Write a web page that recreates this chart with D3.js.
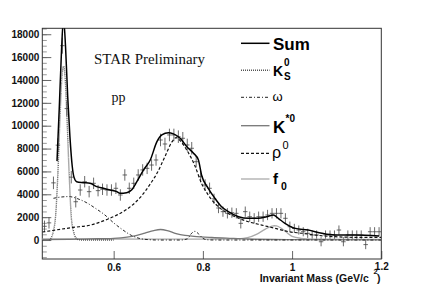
<!DOCTYPE html>
<html>
<head>
<meta charset="utf-8">
<script src="https://cdn.jsdelivr.net/npm/d3@7.8.5/dist/d3.min.js"></script>
<style>
  body { margin: 0; background: #fff; }
  svg { display: block; }
</style>
</head>
<body>
<div id="chart"></div>
<script>
// data histogram (bin centers, counts, errors)
const massBins = [
  0.445, 0.455, 0.465, 0.475, 0.485, 0.495, 0.505, 0.515, 0.525, 0.535,
  0.545, 0.555, 0.565, 0.575, 0.585, 0.595, 0.605, 0.615, 0.625, 0.635,
  0.645, 0.655, 0.665, 0.675, 0.685, 0.695, 0.705, 0.715, 0.725, 0.735,
  0.745, 0.755, 0.765, 0.775, 0.785, 0.795, 0.805, 0.815, 0.825, 0.835,
  0.845, 0.855, 0.865, 0.875, 0.885, 0.895, 0.905, 0.915, 0.925, 0.935,
  0.945, 0.955, 0.965, 0.975, 0.985, 0.995, 1.005, 1.015, 1.025, 1.035,
  1.045, 1.055, 1.065, 1.075, 1.085, 1.095, 1.105, 1.115, 1.125, 1.135,
  1.145, 1.155, 1.165, 1.175, 1.185, 1.195,
];
const counts = [
  1200, 1500, 5000, 8300, 17000, 11500, 5500, 3350, 4375, 5100,
  4230, 4960, 4320, 4440, 4375, 4375, 4525, 3940, 5690, 4525,
  4960, 5690, 6130, 6270, 6560, 7000, 8750, 8400, 9190, 9190,
  9040, 8900, 8315, 8025, 6850, 5540, 4815, 4525, 3600, 2800,
  2480, 2335, 2390, 2335, 1460, 2480, 2040, 1900, 2040, 2040,
  2190, 2335, 2335, 2335, 1900, 1165, 1020, 875, 725, 585,
  440, 440, -150, 440, 440, 440, 875, -150, 440, 440,
  440, 440, -400, 725, 725, 725,
];
const errors = [
  500, 500, 550, 600, 700, 650, 550, 500, 500, 500,
  500, 500, 500, 500, 500, 500, 500, 500, 500, 500,
  500, 500, 500, 500, 500, 500, 550, 550, 550, 550,
  550, 550, 550, 550, 500, 500, 500, 500, 450, 450,
  450, 450, 450, 450, 450, 450, 450, 450, 450, 450,
  450, 450, 450, 450, 450, 450, 400, 400, 400, 400,
  400, 400, 400, 400, 400, 400, 400, 400, 400, 400,
  400, 400, 400, 400, 400, 400,
];

// fit components
const sumMass = [
  0.473, 0.478, 0.483, 0.4875, 0.492, 0.497, 0.502, 0.507, 0.511, 0.517,
  0.532, 0.547, 0.562, 0.577, 0.592, 0.607, 0.614, 0.629, 0.64, 0.652,
  0.667, 0.682, 0.697, 0.708, 0.723, 0.734, 0.749, 0.764, 0.779, 0.79,
  0.797, 0.812, 0.827, 0.842, 0.857, 0.88, 0.902, 0.924, 0.943, 0.958,
  0.969, 0.984, 1.007, 1.036, 1.067, 1.096, 1.141, 1.195,
];
const sumVal = [
  6900, 11500, 16500, 19400, 17000, 12500, 9000, 6500, 5500, 5100,
  5020, 4960, 4670, 4525, 4375, 4230, 4085, 4140, 4375, 5100,
  6130, 7000, 8600, 9190, 9390, 9280, 8900, 8165, 7590, 7000,
  5690, 4525, 3650, 2915, 2480, 2040, 1900, 1900, 2040, 2190,
  1900, 1460, 1020, 875, 585, 440, 440, 350,
];
const k0sMass = [
  0.455, 0.46, 0.465, 0.47, 0.475, 0.48, 0.484, 0.4875, 0.491, 0.495,
  0.5, 0.505, 0.51, 0.515, 0.52, 0.53, 0.6,
];
const k0sVal = [
  0, 200, 800, 2200, 5900, 11000, 14300, 15200, 14300, 11000,
  6000, 2000, 750, 200, 50, 0, 0,
];
const omegaMass = [
  0.465, 0.48, 0.5, 0.52, 0.54, 0.56, 0.58, 0.6, 0.62, 0.64,
  0.66, 0.68, 0.7, 0.75, 0.765, 0.775, 0.782, 0.79, 0.8, 0.81,
  0.83, 0.9, 1.0, 1.2,
];
const omegaVal = [
  3650, 3750, 3800, 3600, 3250, 2750, 2200, 1500, 900, 400,
  120, 30, 0, 0, 100, 600, 760, 550, 150, 20,
  0, 0, 0, 0,
];
const kstarMass = [
  0.44, 0.5, 0.55, 0.6, 0.63, 0.65, 0.67, 0.69, 0.705, 0.72,
  0.74, 0.76, 0.78, 0.82, 0.86, 0.9, 1.0, 1.2,
];
const kstarVal = [
  30, 60, 100, 150, 250, 380, 600, 830, 920, 830,
  560, 400, 320, 220, 150, 90, 40, 10,
];
const rhoMass = [
  0.44, 0.509, 0.547, 0.585, 0.608, 0.63, 0.659, 0.682, 0.698, 0.715,
  0.731, 0.74, 0.749, 0.765, 0.782, 0.797, 0.812, 0.827, 0.85, 0.872,
  0.902, 0.932, 0.962, 0.992, 1.022, 1.051, 1.096, 1.156, 1.2,
];
const rhoVal = [
  700, 1100, 1300, 1800, 2200, 2700, 3700, 4900, 5900, 7300,
  8600, 8950, 8700, 7800, 6500, 4960, 3940, 3200, 2480, 2040,
  1600, 1310, 1020, 730, 590, 440, 290, 230, 230,
];
const f0Mass = [
  0.44, 0.6, 0.8, 0.88, 0.9, 0.92, 0.94, 0.955, 0.96, 0.965,
  0.975, 0.99, 1.0, 1.02, 1.05, 1.2,
];
const f0Val = [
  100, 90, 80, 100, 200, 500, 950, 1220, 1250, 1230,
  1050, 600, 320, 150, 80, 50,
];

const yTicks = [0, 2000, 4000, 6000, 8000, 10000, 12000, 14000, 16000, 18000];
const yMinorTicks = d3.range(-1500, 18501, 500);
const xTicks = [0.6, 0.8, 1, 1.2];
const xTickLabels = ["0.6", "0.8", "1", "1.2"];

const width = 424;
const height = 288;
const plot = { left: 42.3, right: 381.3, top: 28.3, bottom: 259 };

const svg = d3
  .select("#chart")
  .append("svg")
  .attr("width", width)
  .attr("height", height)
  .attr("viewBox", `0 0 ${width} ${height}`);

const x = d3.scaleLinear().domain([0.44, 1.2]).range([plot.left, plot.right]);
const y = d3
  .scaleLinear()
  .domain([-1660, 18520])
  .range([plot.bottom, plot.top]);

svg
  .append("clipPath")
  .attr("id", "plot-clip")
  .append("rect")
  .attr("x", plot.left)
  .attr("y", plot.top)
  .attr("width", plot.right - plot.left)
  .attr("height", plot.bottom - plot.top);

// axes (ROOT style, ticks inside the frame)
const yMinor = svg
  .append("g")
  .attr("transform", `translate(${plot.left},0)`)
  .call(d3.axisLeft(y).tickValues(yMinorTicks).tickSize(-4.5).tickFormat(""));
yMinor.selectAll(".tick line").attr("stroke", "#999");

const yAxis = svg
  .append("g")
  .attr("transform", `translate(${plot.left},0)`)
  .call(
    d3
      .axisLeft(y)
      .tickValues(yTicks)
      .tickSize(-9)
      .tickPadding(3)
      .tickFormat(d3.format("d")),
  );
yAxis.selectAll(".tick line").attr("stroke", "#666");

const xAxis = svg
  .append("g")
  .attr("transform", `translate(0,${plot.bottom})`)
  .call(
    d3
      .axisBottom(x)
      .tickValues(xTicks)
      .tickSize(-8)
      .tickPadding(5)
      .tickFormat((d, i) => xTickLabels[i]),
  );
xAxis.selectAll(".tick line").attr("stroke", "#666");
// ROOT nudges the last label up a little
xAxis
  .selectAll(".tick text")
  .filter((d) => d === 1.2)
  .attr("y", 3.5);

svg.selectAll(".domain").remove();
svg
  .selectAll(".tick text")
  .style("font-family", "Liberation Sans, Arial, sans-serif")
  .style("font-weight", "bold")
  .style("font-size", "10px")
  .attr("fill", "#111");

// frame
svg
  .append("rect")
  .attr("x", plot.left)
  .attr("y", plot.top)
  .attr("width", plot.right - plot.left)
  .attr("height", plot.bottom - plot.top)
  .attr("fill", "none")
  .attr("stroke", "#333")
  .attr("stroke-width", 1);

// axis title
const title = svg
  .append("text")
  .attr("x", 259.7)
  .attr("y", 282)
  .style("font-family", "Liberation Sans, Arial, sans-serif")
  .style("font-weight", "bold")
  .style("font-size", "10.5px")
  .attr("fill", "#111");
title.append("tspan").text("Invariant Mass (GeV/c");
title
  .append("tspan")
  .attr("x", 373.5)
  .attr("y", 274)
  .style("font-size", "7.5px")
  .text("2");
title.append("tspan").attr("x", 377).attr("y", 282).text(")");

const chart = svg.append("g").attr("clip-path", "url(#plot-clip)");

// data points with error bars
const points = massBins.map((m, i) => ({ m, v: counts[i], e: errors[i] }));
const cross = chart
  .append("g")
  .attr("stroke", "#444")
  .attr("stroke-width", 0.8)
  .selectAll("g")
  .data(points)
  .enter()
  .append("g");
cross
  .append("line")
  .attr("x1", (d) => x(d.m - 0.005))
  .attr("x2", (d) => x(d.m + 0.005))
  .attr("y1", (d) => y(d.v))
  .attr("y2", (d) => y(d.v));
cross
  .append("line")
  .attr("x1", (d) => x(d.m))
  .attr("x2", (d) => x(d.m))
  .attr("y1", (d) => y(d.v - d.e))
  .attr("y2", (d) => y(d.v + d.e));

const components = [
  { key: "f0", mass: f0Mass, val: f0Val, stroke: "#aaa", width: 1.3, dash: null },
  { key: "kstar", mass: kstarMass, val: kstarVal, stroke: "#777", width: 1.3, dash: null },
  { key: "omega", mass: omegaMass, val: omegaVal, stroke: "#222", width: 1, dash: "3,2,1,2" },
  { key: "k0s", mass: k0sMass, val: k0sVal, stroke: "#555", width: 1.4, dash: "1,1" },
  { key: "rho", mass: rhoMass, val: rhoVal, stroke: "#111", width: 1.2, dash: "3,2" },
  { key: "sum", mass: sumMass, val: sumVal, stroke: "#000", width: 1.5, dash: null },
];

const line = d3
  .line()
  .x((d) => x(d[0]))
  .y((d) => y(d[1]))
  .curve(d3.curveMonotoneX);

components.forEach((c) => {
  chart
    .append("path")
    .datum(c.mass.map((m, i) => [m, c.val[i]]))
    .attr("d", line)
    .attr("fill", "none")
    .attr("stroke", c.stroke)
    .attr("stroke-width", c.width)
    .attr("stroke-dasharray", c.dash);
});

// labels
svg
  .append("text")
  .attr("x", 94)
  .attr("y", 64.3)
  .attr("textLength", 111)
  .attr("lengthAdjust", "spacingAndGlyphs")
  .style("font-family", "Liberation Serif, Times New Roman, serif")
  .style("font-size", "15.5px")
  .attr("fill", "#111")
  .text("STAR Preliminary");

svg
  .append("text")
  .attr("x", 111.5)
  .attr("y", 102)
  .style("font-family", "Liberation Serif, Times New Roman, serif")
  .style("font-size", "14px")
  .attr("fill", "#111")
  .text("pp");

// legend
const legendItems = [
  { key: "sum", y: 43.3 },
  { key: "k0s", y: 70.3 },
  { key: "omega", y: 97.3 },
  { key: "kstar", y: 125.7 },
  { key: "rho", y: 153.3 },
  { key: "f0", y: 179 },
];
const legend = svg.append("g");
legendItems.forEach((item) => {
  const c = components.find((d) => d.key === item.key);
  legend
    .append("line")
    .attr("x1", 241)
    .attr("x2", 269.5)
    .attr("y1", item.y)
    .attr("y2", item.y)
    .attr("stroke", c.stroke)
    .attr("stroke-width", c.width)
    .attr("stroke-dasharray", c.dash);
});

const labelFont = "Liberation Sans, Arial, sans-serif";
function addLabel(txt, xPos, yPos, size, bold) {
  return legend
    .append("text")
    .attr("x", xPos)
    .attr("y", yPos)
    .style("font-family", labelFont)
    .style("font-weight", bold ? "bold" : "normal")
    .style("font-size", size + "px")
    .attr("fill", "#000")
    .text(txt);
}
addLabel("Sum", 273, 50, 17, true);
addLabel("K", 273, 76, 14, true);
addLabel("0", 284, 66, 10, true);
addLabel("S", 284, 80, 10, true);
addLabel("ω", 272.5, 101, 13, false);
addLabel("K", 273, 132.5, 17, true);
addLabel("*0", 285.5, 121.5, 10, true);
addLabel("ρ", 272, 158, 16, false);
addLabel("0", 282.5, 149, 11, false);
addLabel("f", 273, 184, 15, true);
addLabel("0", 281, 189.5, 10.5, true);
</script>
</body>
</html>
